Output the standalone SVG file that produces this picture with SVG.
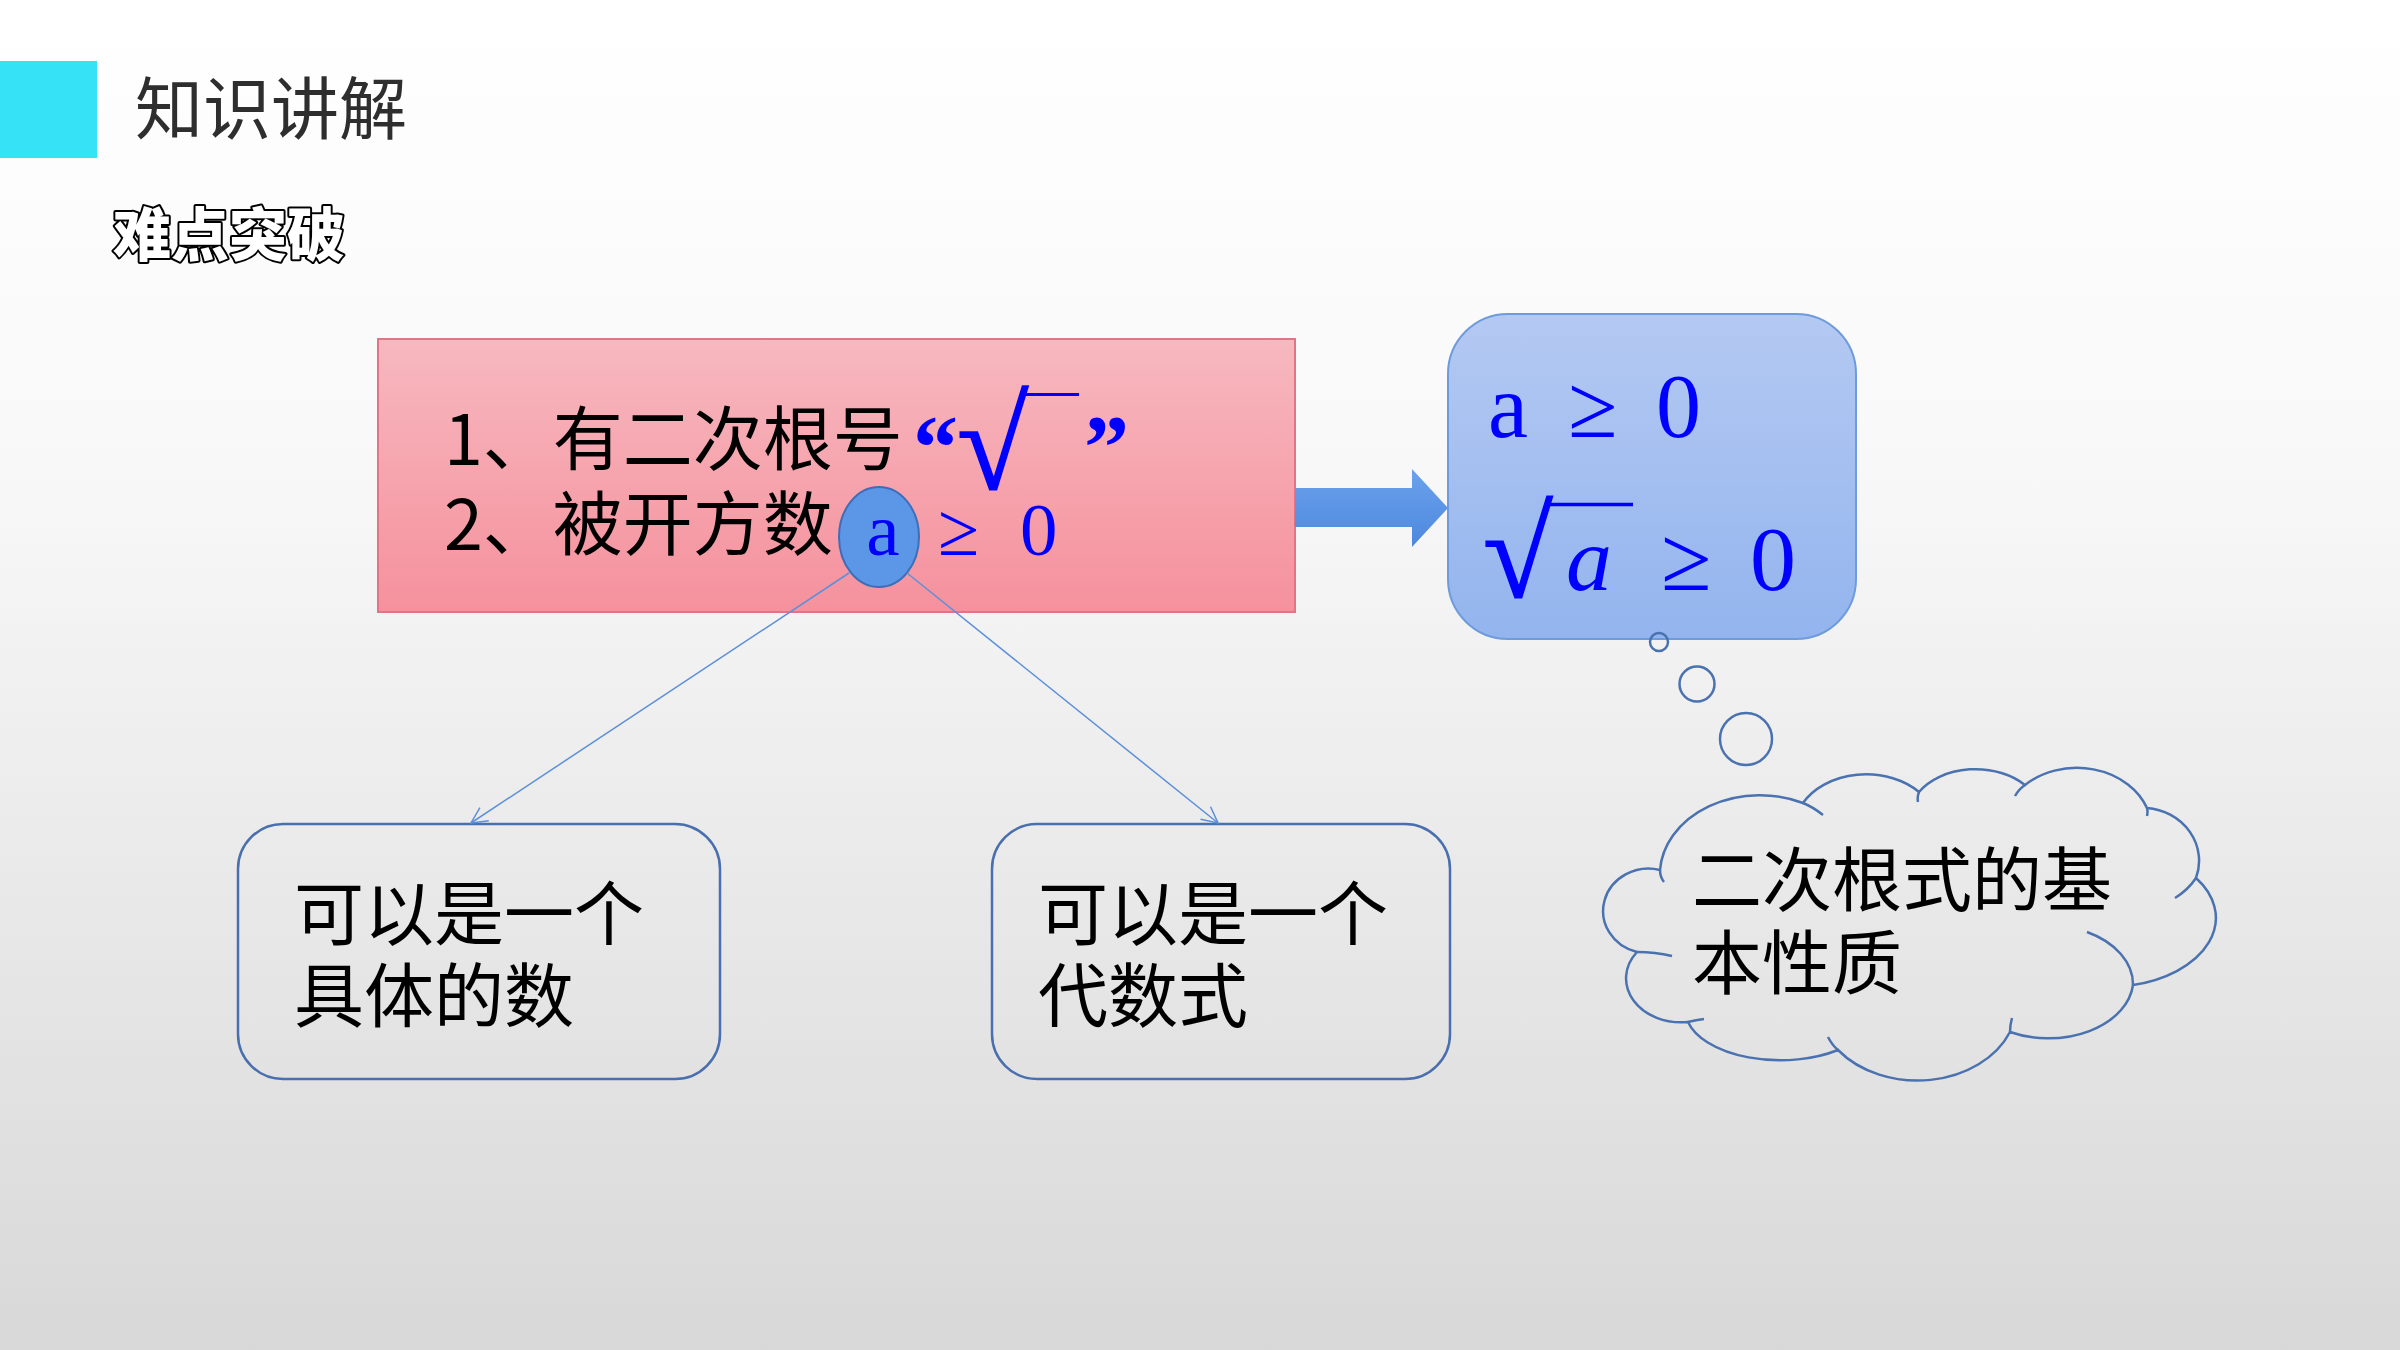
<svg xmlns="http://www.w3.org/2000/svg" width="2400" height="1350" viewBox="0 0 2400 1350">
<defs>
<linearGradient id="bg" x1="0" y1="0" x2="0" y2="1">
<stop offset="0" stop-color="#FFFFFF"/>
<stop offset="0.35" stop-color="#F8F8F8"/>
<stop offset="1" stop-color="#D8D8D8"/>
</linearGradient>
<linearGradient id="pink" x1="0" y1="0" x2="0" y2="1">
<stop offset="0" stop-color="#F7B8BF"/>
<stop offset="1" stop-color="#F5919D"/>
</linearGradient>
<linearGradient id="blue" x1="0" y1="0" x2="0" y2="1">
<stop offset="0" stop-color="#B4C9F2"/>
<stop offset="1" stop-color="#93B4EE"/>
</linearGradient>
<linearGradient id="arrowg" x1="0" y1="0" x2="0" y2="1">
<stop offset="0" stop-color="#6CA2EC"/>
<stop offset="1" stop-color="#4C88DE"/>
</linearGradient>
<marker id="open" viewBox="0 0 20 20" refX="18" refY="10" markerWidth="20" markerHeight="20" markerUnits="userSpaceOnUse" orient="auto">
<path d="M2 2 L18 10 L2 18" fill="none" stroke="#5B8FDA" stroke-width="1.5"/>
</marker>
<style>
.cjk{font-family:"Noto Sans CJK SC","Noto Sans",sans-serif;fill:#000000}
.math{font-family:"Liberation Serif","DejaVu Serif",serif;fill:#0000FF}
.rad{stroke:#0000FF;stroke-width:1.5}
.box{fill:none;stroke:#4A6FAE;stroke-width:2.5}
.cloud{fill:none;stroke:#4A72B0;stroke-width:2.5}
.conn{stroke:#5B8FDA;stroke-width:1.5;fill:none}
</style>
</defs>
<rect x="0" y="0" width="2400" height="1350" fill="url(#bg)"/>

<g id="header">
<rect x="0" y="61" width="97" height="97" fill="#36E2F5"/>
<text x="135" y="134" class="cjk" font-size="68" style="fill:#2E2E2E">知识讲解</text>
<text x="113" y="256" class="cjk" font-size="58" font-weight="900" style="fill:#FFFFFF;stroke:#000000;stroke-width:4;paint-order:stroke;stroke-linejoin:round">难点突破</text>
</g>

<g id="conditions">
<rect x="378" y="339" width="917" height="273" fill="url(#pink)" stroke="#E27585" stroke-width="2"/>
<text class="cjk" font-size="70"><tspan x="444" y="465">1、有二次根号</tspan><tspan x="444" y="550">2、被开方数</tspan></text>
<text x="913" y="478" class="math" font-size="90" font-weight="bold">“</text>
<text x="957" y="489" class="math rad" font-size="130">√</text>
<line x1="1022" y1="394.5" x2="1079" y2="394.5" stroke="#0000FF" stroke-width="3"/>
<text x="1084" y="478" class="math" font-size="90" font-weight="bold">”</text>
<ellipse cx="879" cy="537" rx="40" ry="50" fill="#5C96E6" stroke="#3E6EB8" stroke-width="2"/>
<text x="883" y="555" class="math" font-size="75" text-anchor="middle">a</text>
<text x="938" y="555" class="math" font-size="75">≥</text>
<text x="1020" y="555" class="math" font-size="75">0</text>
</g>

<g id="arrow">
<path d="M1295 488 L1412 488 L1412 469 L1448 508 L1412 547 L1412 527 L1295 527 Z" fill="url(#arrowg)"/>
</g>

<g id="properties">
<rect x="1448" y="314" width="408" height="325" rx="60" ry="60" fill="url(#blue)" stroke="#6D9BDB" stroke-width="2"/>
<text x="1488" y="437" class="math" font-size="90">a</text>
<text x="1568" y="437" class="math" font-size="90">≥</text>
<text x="1656" y="437" class="math" font-size="90">0</text>
<text x="1483" y="597" class="math rad" font-size="127">√</text>
<line x1="1548" y1="504.5" x2="1633" y2="504.5" stroke="#0000FF" stroke-width="3.5"/>
<text x="1566" y="590" class="math" font-size="92" font-style="italic">a</text>
<text x="1661" y="590" class="math" font-size="92">≥</text>
<text x="1750" y="590" class="math" font-size="92">0</text>
</g>

<g id="bubbles">
<circle cx="1659" cy="642" r="9" class="cloud"/>
<circle cx="1697" cy="684" r="17.5" class="cloud"/>
<circle cx="1746" cy="739" r="26" class="cloud"/>
</g>

<g id="thought">
<path class="cloud" d="M1660 870 A100 80 0 0 1 1803 803 A71 53 0 0 1 1919 792 A66 47 0 0 1 2025 785 A75 62 0 0 1 2147 808 A57 53 0 0 1 2196 878 A108 69 0 0 1 2133 985 A85 59 0 0 1 2010 1032 A100 78 0 0 1 1838 1050 A95 50 0 0 1 1688 1022 A55 44 0 0 1 1637 952 A45 42 0 0 1 1660 870 Z"/>
<path class="cloud" d="M1660 870 Q1660 877 1664 882 M1803 803 Q1813 807 1823 815 M1919 792 Q1917 797 1918 802 M2025 785 Q2019 789 2015 796 M2147 808 Q2148 812 2147 816 M2196 878 Q2188 890 2175 898 M2133 985 A85 59 0 0 0 2087 932 M2010 1032 Q2010 1025 2012 1018 M1838 1050 Q1832 1045 1828 1037 M1688 1022 Q1696 1020 1704 1019 M1637 952 Q1655 952 1672 956"/>
<text class="cjk" font-size="70"><tspan x="1692" y="906">二次根式的基</tspan><tspan x="1692" y="989">本性质</tspan></text>
</g>

<g id="number">
<rect x="238" y="824" width="482" height="255" rx="45" ry="45" class="box"/>
<text class="cjk" font-size="70"><tspan x="294" y="940">可以是一个</tspan><tspan x="294" y="1022">具体的数</tspan></text>
</g>

<g id="expression">
<rect x="992" y="824" width="458" height="255" rx="45" ry="45" class="box"/>
<text class="cjk" font-size="70"><tspan x="1038" y="940">可以是一个</tspan><tspan x="1038" y="1022">代数式</tspan></text>
</g>

<g id="connectors">
<line x1="849" y1="573" x2="471" y2="823" class="conn" marker-end="url(#open)"/>
<line x1="907" y1="573" x2="1218" y2="823" class="conn" marker-end="url(#open)"/>
</g>
</svg>
